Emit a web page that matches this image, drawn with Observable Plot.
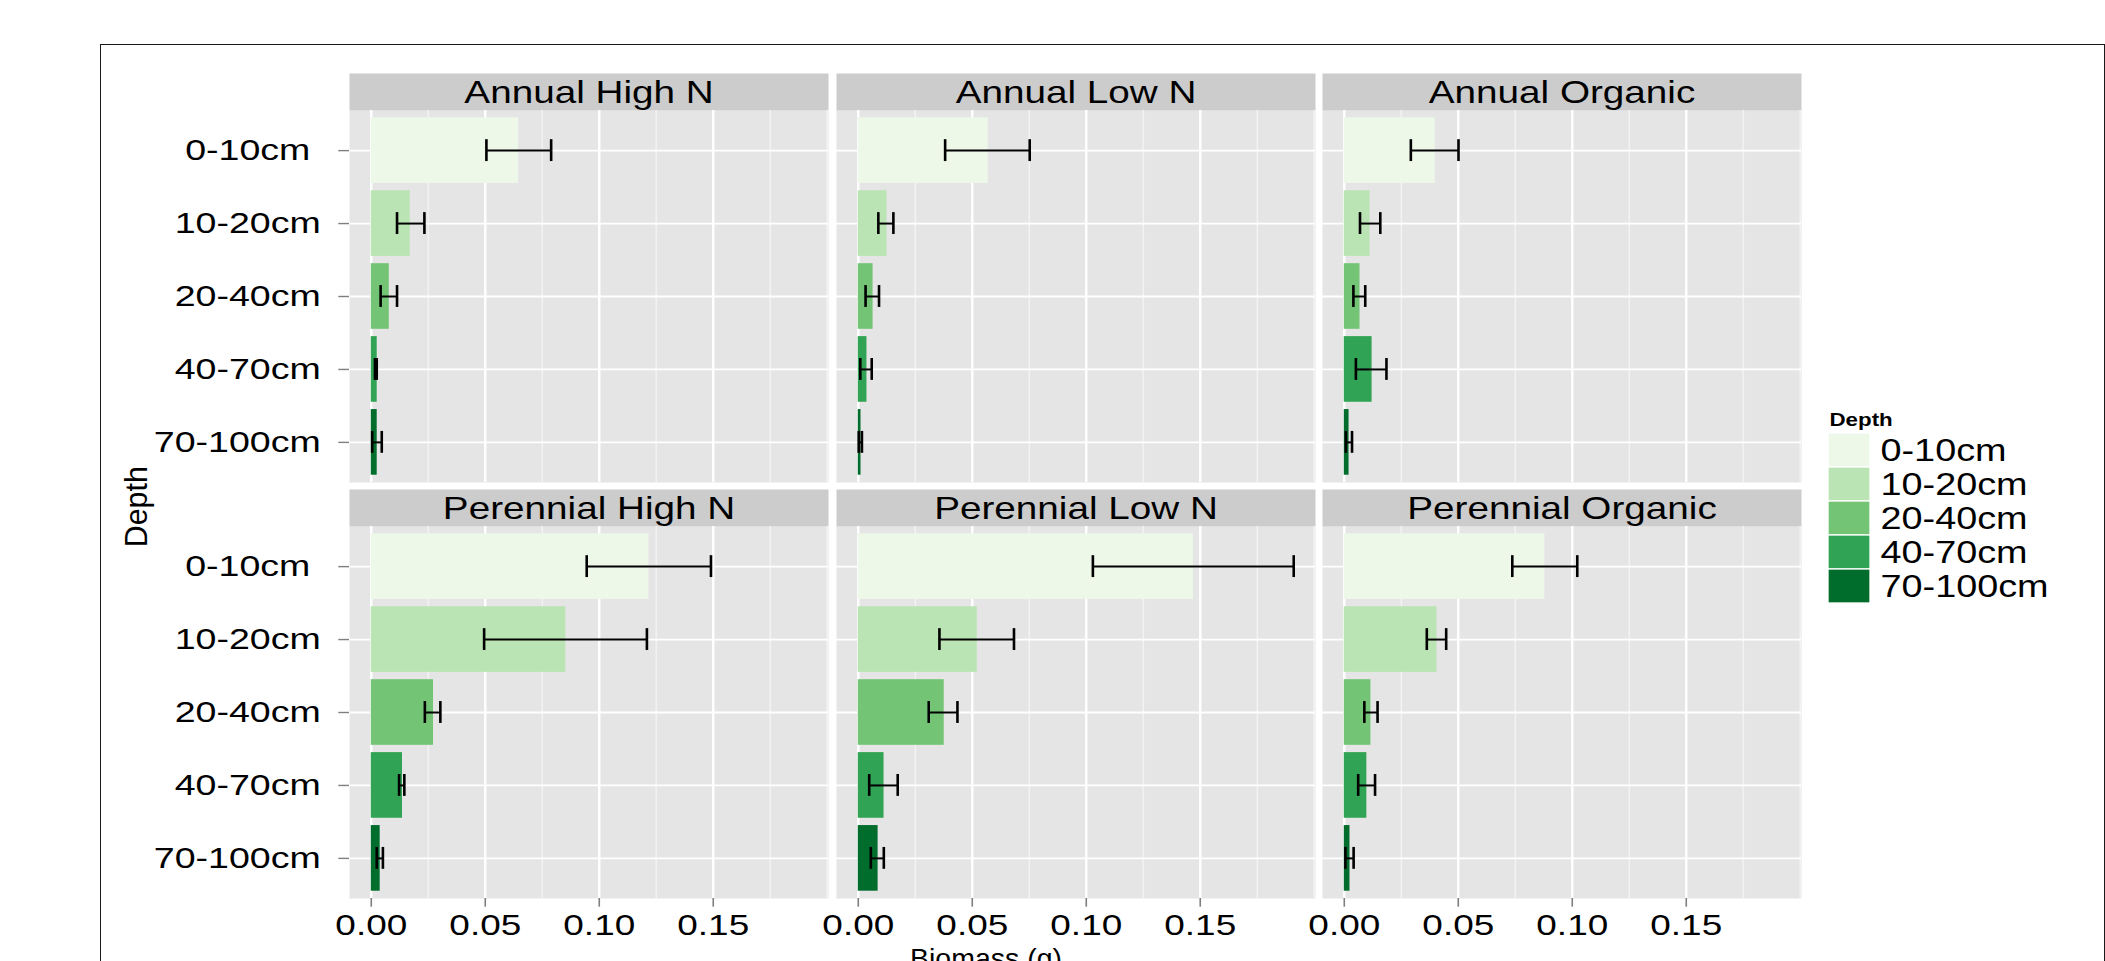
<!DOCTYPE html>
<html>
<head>
<meta charset="utf-8">
<script src="https://cdn.jsdelivr.net/npm/d3@7"></script>
<script src="https://cdn.jsdelivr.net/npm/@observablehq/plot@0.6"></script>
<style>
  html, body { margin: 0; padding: 0; background: #fff; }
  #root { position: relative; width: 2105px; height: 961px; overflow: hidden; background: #fff;
          font-family: "Liberation Sans", Arial, Helvetica, sans-serif; color: #000; }
  #frame { position: absolute; left: 99.5px; top: 43.5px; width: 2005px; height: 1000px;
           border: 1.4px solid #1a1a1a; box-sizing: border-box; }
  #titles { position: absolute; left: 0; top: 0; pointer-events: none; overflow: visible; }
  #titles text { font-family: "Liberation Sans", Arial, Helvetica, sans-serif; fill: #000; }
</style>
</head>
<body>
<div id="root"><div id="frame"></div></div>
<script>
// ---------------- data ----------------
const systems = ["Annual", "Perennial"];
const treatments = ["High N", "Low N", "Organic"];
const depths = ["0-10cm ", "10-20cm", "20-40cm", "40-70cm", "70-100cm"];
const depthColors = ["#edf8e9", "#bae4b3", "#74c476", "#31a354", "#006d2c"];
const xTickValues = [0, 0.05, 0.10, 0.15];
const xMinorValues = [0.025, 0.075, 0.125, 0.175, 0.2];

// biomass (g): mean, lower and upper end of the error bar, in depth order
const annualHighNMean  = [0.0646, 0.0171, 0.0079, 0.0026, 0.0026];
const annualHighNLow   = [0.0505, 0.0113, 0.0041, 0.0016, 0.0004];
const annualHighNHigh  = [0.0789, 0.0233, 0.0113, 0.0024, 0.0046];

const annualLowNMean   = [0.0570, 0.0126, 0.0065, 0.0038, 0.0012];
const annualLowNLow    = [0.0381, 0.0088, 0.0032, 0.0009, 0.0002];
const annualLowNHigh   = [0.0752, 0.0154, 0.0091, 0.0059, 0.0016];

const annualOrganicMean = [0.0399, 0.0113, 0.0069, 0.0122, 0.0021];
const annualOrganicLow  = [0.0292, 0.0069, 0.0040, 0.0051, 0.0007];
const annualOrganicHigh = [0.0501, 0.0158, 0.0092, 0.0185, 0.0034];

const perennialHighNMean = [0.1218, 0.0853, 0.0273, 0.0137, 0.0039];
const perennialHighNLow  = [0.0945, 0.0495, 0.0235, 0.0122, 0.0024];
const perennialHighNHigh = [0.1490, 0.1209, 0.0303, 0.0145, 0.0051];

const perennialLowNMean = [0.1470, 0.0522, 0.0377, 0.0113, 0.0087];
const perennialLowNLow  = [0.1029, 0.0356, 0.0309, 0.0048, 0.0055];
const perennialLowNHigh = [0.1910, 0.0683, 0.0435, 0.0173, 0.0112];

const perennialOrganicMean = [0.0880, 0.0407, 0.0117, 0.0099, 0.0025];
const perennialOrganicLow  = [0.0737, 0.0362, 0.0088, 0.0061, 0.0005];
const perennialOrganicHigh = [0.1022, 0.0447, 0.0146, 0.0135, 0.0041];

const xTitle = "Biomass (g)";
const yTitle = "Depth";
const legendTitle = "Depth";

// ---------------- build table ----------------
const series = [
  ["Annual", "High N", annualHighNMean, annualHighNLow, annualHighNHigh],
  ["Annual", "Low N", annualLowNMean, annualLowNLow, annualLowNHigh],
  ["Annual", "Organic", annualOrganicMean, annualOrganicLow, annualOrganicHigh],
  ["Perennial", "High N", perennialHighNMean, perennialHighNLow, perennialHighNHigh],
  ["Perennial", "Low N", perennialLowNMean, perennialLowNLow, perennialLowNHigh],
  ["Perennial", "Organic", perennialOrganicMean, perennialOrganicLow, perennialOrganicHigh]
];
const rows = [];
for (const [system, treatment, m, lo, hi] of series) {
  depths.forEach((depth, i) => rows.push({system, treatment, depth, mean: m[i], lo: lo[i], hi: hi[i]}));
}
const xMax = d3.max(rows, d => Math.max(d.hi, d.mean));
const xPad = 0.05 * xMax;
const xDomain = [-xPad, xMax + xPad];
const minorTicks = xMinorValues.filter(v => v <= xDomain[1]);

// ---------------- layout ----------------
const FONT = '"Liberation Sans", Arial, Helvetica, sans-serif';
const panelW = 479, panelH = 372, stripH = 37;
const colLeft = [349, 836, 1322];
const rowTop = [73, 489];
const root = document.getElementById("root");

function widen(svg, f) {
  svg.querySelectorAll("text").forEach(t => {
    const L = t.getComputedTextLength();
    if (L > 0) {
      t.setAttribute("textLength", (L * f).toFixed(2));
      t.setAttribute("lengthAdjust", "spacingAndGlyphs");
    }
  });
}

systems.forEach((system, r) => {
  treatments.forEach((treatment, c) => {
    const data = rows.filter(d => d.system === system && d.treatment === treatment);
    const isLeft = c === 0, isBottom = r === systems.length - 1;
    const mL = isLeft ? colLeft[0] : 0;
    const mB = isBottom ? 63 : 0;
    const step = panelH / (depths.length - 0.1 + 0.2);
    const whiskerInset = (0.9 * step - 0.3 * step) / 2;
    const marks = [
      Plot.frame({fill: "#E5E5E5"}),
      Plot.frame({fill: "#CCCCCC", insetTop: -stripH, insetBottom: panelH}),
      Plot.text([`${system} ${treatment}`], {text: d => d, frameAnchor: "top", lineAnchor: "bottom",
        dy: -7.3, fontSize: 30.7, fill: "#000"}),
      Plot.ruleX(minorTicks, {stroke: "#F2F2F2", strokeWidth: 1.6}),
      Plot.ruleX(xTickValues, {stroke: "#FFFFFF", strokeWidth: 2.4}),
      Plot.ruleY(depths, {stroke: "#FFFFFF", strokeWidth: 1.8}),
      Plot.barX(data, {x: "mean", y: "depth", fill: "depth"}),
      Plot.ruleY(data, {y: "depth", x1: "lo", x2: "hi", stroke: "#000", strokeWidth: 2}),
      Plot.tickX(data, {x: "lo", y: "depth", stroke: "#000", strokeWidth: 2.6, insetTop: whiskerInset, insetBottom: whiskerInset}),
      Plot.tickX(data, {x: "hi", y: "depth", stroke: "#000", strokeWidth: 2.6, insetTop: whiskerInset, insetBottom: whiskerInset})
    ];
    if (isLeft) marks.push(Plot.axisY({anchor: "left", tickSize: 10.7, tickPadding: 18, stroke: "#7F7F7F",
      strokeWidth: 1.4, fill: "#000", fontSize: 29.8, label: null,
      tickFormat: d => d.replace(/ $/, "\u00a0")}));
    if (isBottom) marks.push(Plot.axisX({anchor: "bottom", ticks: xTickValues, tickSize: 8.7, tickPadding: 6.6,
      stroke: "#7F7F7F", strokeWidth: 1.6, fill: "#000", fontSize: 29.3, label: null,
      tickFormat: d3.format(".2f")}));
    const svg = Plot.plot({
      width: mL + panelW, height: stripH + panelH + mB,
      marginLeft: mL, marginRight: 0, marginTop: stripH, marginBottom: mB,
      x: {domain: xDomain, label: null, axis: null},
      y: {domain: depths, padding: 0.1, round: false, label: null, axis: null},
      color: {domain: depths, range: depthColors},
      style: {position: "absolute", left: (isLeft ? 0 : colLeft[c]) + "px", top: rowTop[r] + "px",
        background: "transparent", overflow: "visible", fontFamily: FONT, maxWidth: "none"},
      marks
    });
    root.appendChild(svg);
    widen(svg, 1.26);
  });
});

// ---------------- legend ----------------
const legend = Plot.plot({
  width: 42 + 240, height: 33 + 170,
  marginLeft: 0, marginRight: 240, marginTop: 33, marginBottom: 0,
  x: {axis: null},
  y: {domain: depths, padding: 0, round: false, axis: null},
  color: {domain: depths, range: depthColors},
  style: {position: "absolute", left: "1828px", top: "400px", background: "transparent",
    overflow: "visible", fontFamily: FONT, maxWidth: "none"},
  marks: [
    Plot.cell(depths, {y: d => d, fill: d => d, stroke: "#FFFFFF", strokeWidth: 1.3}),
    Plot.axisY({anchor: "right", tickSize: 0, tickPadding: 10, fontSize: 31.5, fill: "#000", label: null,
      tickFormat: d => d.trim()}),
    Plot.text([legendTitle], {text: d => d, frameAnchor: "top-left", textAnchor: "start", lineAnchor: "bottom",
      dy: -8, dx: 1, fontSize: 18.6, fontWeight: "bold", fill: "#000"})
  ]
});
root.appendChild(legend);
widen(legend, 1.2);

// ---------------- axis titles ----------------
const ns = "http://www.w3.org/2000/svg";
const titles = document.createElementNS(ns, "svg");
titles.setAttribute("id", "titles");
titles.setAttribute("width", 2105);
titles.setAttribute("height", 961);
const yt = document.createElementNS(ns, "text");
yt.setAttribute("transform", "translate(147,506.7) rotate(-90)");
yt.setAttribute("text-anchor", "middle");
yt.setAttribute("textLength", 81);
yt.setAttribute("lengthAdjust", "spacingAndGlyphs");
yt.style.fontSize = "30.5px";
yt.textContent = yTitle;
const xt = document.createElementNS(ns, "text");
xt.setAttribute("x", 986);
xt.setAttribute("y", 968);
xt.setAttribute("text-anchor", "middle");
xt.setAttribute("textLength", 152);
xt.setAttribute("lengthAdjust", "spacingAndGlyphs");
xt.style.fontSize = "28px";
xt.textContent = xTitle;
titles.appendChild(yt);
titles.appendChild(xt);
root.appendChild(titles);
</script>
</body>
</html>
